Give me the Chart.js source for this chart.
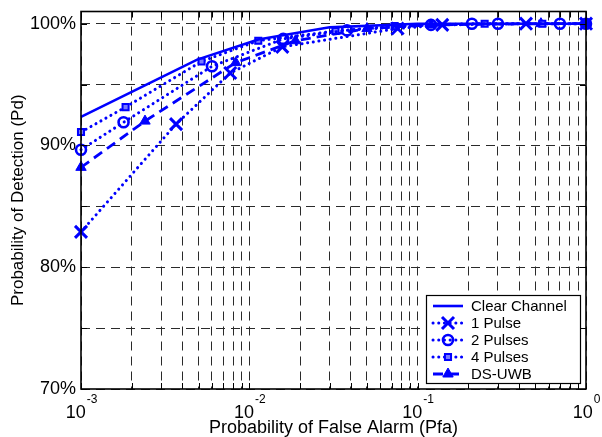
<!DOCTYPE html>
<html><head><meta charset="utf-8">
<script src="https://cdn.jsdelivr.net/npm/chart.js@4/dist/chart.umd.min.js"></script>
<style>html,body{margin:0;padding:0;background:#fff;}#wrap{width:602px;height:437px;position:relative;}</style>
</head><body><div id="wrap"><canvas id="c" width="602" height="437"></canvas></div>
<script>
// ---- data ----
const seriesNames = ['Clear Channel', '1 Pulse', '2 Pulses', '4 Pulses', 'DS-UWB'];

const clearPfa = [0.001, 0.0049, 0.0113, 0.03, 0.1, 1];
const clearPd  = [92.35, 97.05, 98.7, 99.7, 100, 100];

const pulse1Pfa = [0.001, 0.00367, 0.0077, 0.0157, 0.076, 0.14, 0.44, 1];
const pulse1Pd  = [82.9, 91.75, 95.95, 98.1, 99.6, 99.9, 100, 100];

const pulse2Pfa = [0.001, 0.00179, 0.006, 0.0159, 0.038, 0.12, 0.21, 0.3, 0.7, 1];
const pulse2Pd  = [89.65, 91.9, 96.5, 98.75, 99.45, 99.9, 100, 100, 100, 100];

const pulse4Pfa = [0.001, 0.00184, 0.0052, 0.0113, 0.0325, 0.073, 0.25, 0.55, 1];
const pulse4Pd  = [91.1, 93.15, 96.9, 98.6, 99.4, 99.8, 100, 100, 100];

const dsuwbPfa = [0.001, 0.0024, 0.0083, 0.0188, 0.05, 0.12, 0.54, 1];
const dsuwbPd  = [88.2, 92.0, 96.8, 98.6, 99.6, 99.9, 100, 100];

const xMajorTicks = [0.001, 0.01, 0.1, 1];
const xTickBase = '10';
const xTickExponents = ['-3', '-2', '-1', '0'];
const xMinorMultipliers = [2, 3, 4, 5, 6, 7, 8, 9];
const yTickValues = [70, 75, 80, 85, 90, 95, 100];
const yTickLabels = {70: '70%', 80: '80%', 90: '90%', 100: '100%'};

// ---- derived ----
const xGridValues = [];
xMajorTicks.forEach((m, i) => {
  xGridValues.push(m);
  if (i < xMajorTicks.length - 1) xMinorMultipliers.forEach(k => xGridValues.push(+(m * k).toPrecision(6)));
});

const FONT = "'Liberation Sans', Arial, Helvetica, sans-serif";
Chart.defaults.font.family = FONT;
Chart.defaults.color = '#000';

const BLUE = '#0000ff';
const DOT = [0.1, 5.6];
const DASH = [10, 6];
function pts(xs, ys) { return xs.map((x, i) => ({x: x, y: ys[i]})); }

const datasets = [
  {label: seriesNames[0], data: pts(clearPfa, clearPd), borderColor: BLUE, borderWidth: 2.6,
   pointRadius: 0, pointStyle: false, clip: false},
  {label: seriesNames[1], data: pts(pulse1Pfa, pulse1Pd), borderColor: BLUE, borderWidth: 3,
   borderDash: DOT, borderCapStyle: 'round', pointStyle: 'crossRot', pointRadius: 8.5,
   pointBorderWidth: 3, pointBorderColor: BLUE, pointBackgroundColor: BLUE, clip: false},
  {label: seriesNames[2], data: pts(pulse2Pfa, pulse2Pd), borderColor: BLUE, borderWidth: 3,
   borderDash: DOT, borderCapStyle: 'round', pointStyle: 'circle', pointRadius: 5,
   pointBorderWidth: 2.6, pointBorderColor: BLUE, pointBackgroundColor: 'rgba(255,255,255,0)', clip: false},
  {label: seriesNames[3], data: pts(pulse4Pfa, pulse4Pd), borderColor: BLUE, borderWidth: 3,
   borderDash: DOT, borderCapStyle: 'round', pointStyle: 'rect', pointRadius: 4.3,
   pointBorderWidth: 2, pointBorderColor: BLUE, pointBackgroundColor: '#7a7aff', clip: false},
  {label: seriesNames[4], data: pts(dsuwbPfa, dsuwbPd), borderColor: BLUE, borderWidth: 2.8,
   borderDash: DASH, pointStyle: 'triangle', pointRadius: 6,
   pointBorderWidth: 1, pointBorderColor: BLUE, pointBackgroundColor: BLUE, clip: false}
];

function marker(ctx, ds, cx, cy) {
  const st = ds.pointStyle, r = ds.pointRadius;
  if (!st || !r) return;
  ctx.save();
  ctx.setLineDash([]);
  ctx.strokeStyle = ds.pointBorderColor; ctx.fillStyle = ds.pointBackgroundColor;
  ctx.lineWidth = ds.pointBorderWidth;
  ctx.beginPath();
  if (st === 'crossRot') {
    const o = r * Math.SQRT1_2;
    ctx.moveTo(cx - o, cy - o); ctx.lineTo(cx + o, cy + o);
    ctx.moveTo(cx + o, cy - o); ctx.lineTo(cx - o, cy + o);
    ctx.stroke();
  } else if (st === 'circle') {
    ctx.arc(cx, cy, r, 0, Math.PI * 2); ctx.fill(); ctx.stroke();
  } else if (st === 'rect') {
    const s = r * Math.SQRT1_2;
    ctx.rect(cx - s, cy - s, 2 * s, 2 * s); ctx.fill(); ctx.stroke();
  } else if (st === 'triangle') {
    ctx.moveTo(cx, cy - r);
    ctx.lineTo(cx + r * 0.866, cy + r * 0.5);
    ctx.lineTo(cx - r * 0.866, cy + r * 0.5);
    ctx.closePath(); ctx.fill(); ctx.stroke();
  }
  ctx.restore();
}

const decor = {
  id: 'decor',
  afterDatasetsDraw(chart) {
    const {ctx, chartArea: a, scales: {x, y}} = chart;
    ctx.save();
    ctx.setLineDash([]);
    ctx.strokeStyle = '#000';
    ctx.lineWidth = 1;
    // inward tick marks
    ctx.beginPath();
    xGridValues.forEach(v => {
      const px = Math.round(x.getPixelForValue(v)) + 0.5;
      ctx.moveTo(px, a.bottom); ctx.lineTo(px, a.bottom - 6);
      ctx.moveTo(px, a.top); ctx.lineTo(px, a.top + 6);
    });
    yTickValues.forEach(v => {
      const py = Math.round(y.getPixelForValue(v)) + 0.5;
      ctx.moveTo(a.left, py); ctx.lineTo(a.left + 6, py);
      ctx.moveTo(a.right, py); ctx.lineTo(a.right - 6, py);
    });
    ctx.stroke();
    // axes box
    ctx.lineWidth = 1.6;
    ctx.strokeRect(a.left, a.top, a.right - a.left, a.bottom - a.top);
    // x tick labels with superscript exponent
    ctx.fillStyle = '#000';
    ctx.textBaseline = 'alphabetic';
    ctx.textAlign = 'left';
    xMajorTicks.forEach((v, i) => {
      const px = x.getPixelForValue(v);
      ctx.font = '18px ' + FONT;
      const w1 = ctx.measureText(xTickBase).width;
      ctx.font = '12px ' + FONT;
      const w2 = ctx.measureText(xTickExponents[i]).width;
      const start = px - (w1 + w2) / 2;
      ctx.font = '18px ' + FONT;
      ctx.fillText(xTickBase, start, a.bottom + 29);
      ctx.font = '12px ' + FONT;
      ctx.fillText(xTickExponents[i], start + w1 + 1, a.bottom + 14);
    });
    // legend
    const bw = 154, bh = 88;
    const bx = a.right - 6 - bw, by = a.bottom - 6 - bh;
    ctx.fillStyle = '#fff';
    ctx.fillRect(bx, by, bw, bh);
    ctx.lineWidth = 1.2;
    ctx.strokeStyle = '#000';
    ctx.strokeRect(bx + 0.5, by + 0.5, bw, bh);
    chart.data.datasets.forEach((ds, i) => {
      const cy = by + 11 + i * 17;
      ctx.save();
      ctx.strokeStyle = ds.borderColor;
      ctx.lineWidth = ds.borderWidth;
      ctx.lineCap = ds.borderCapStyle || 'butt';
      ctx.setLineDash(ds.borderDash || []);
      ctx.beginPath();
      ctx.moveTo(bx + 7, cy); ctx.lineTo(bx + 37, cy);
      ctx.stroke();
      ctx.restore();
      marker(ctx, ds, bx + 22, cy);
      ctx.fillStyle = '#000';
      ctx.font = '15px ' + FONT;
      ctx.textBaseline = 'middle';
      ctx.fillText(ds.label, bx + 45, cy + 1);
    });
    ctx.restore();
  }
};

const GRIDCOL = '#2a2a2a';
new Chart(document.getElementById('c'), {
  type: 'line',
  data: {datasets: datasets},
  plugins: [decor],
  options: {
    responsive: false,
    devicePixelRatio: 1,
    animation: false,
    events: [],
    layout: {padding: {left: 0, right: 16, top: 10, bottom: 0}},
    plugins: {legend: {display: false}, tooltip: {enabled: false}},
    elements: {line: {tension: 0}},
    scales: {
      x: {
        type: 'logarithmic', min: 0.001, max: 1, position: 'bottom',
        afterBuildTicks: s => { s.ticks = xGridValues.map(v => ({value: v})); },
        afterFit: s => { s.height = 48; s.paddingLeft = 0; s.paddingRight = 0; },
        ticks: {display: false, autoSkip: false},
        grid: {color: GRIDCOL, lineWidth: 1, drawTicks: false},
        border: {display: false, dash: [9, 6]},
        title: {display: true, text: 'Probability of False Alarm (Pfa)', font: {size: 18, lineHeight: 1}, padding: {top: 0, bottom: 0}}
      },
      y: {
        type: 'linear', min: 70, max: 101, position: 'left',
        afterBuildTicks: s => { s.ticks = yTickValues.map(v => ({value: v})); },
        afterFit: s => { s.width = 81; s.paddingTop = 0; s.paddingBottom = 0; },
        ticks: {autoSkip: false, padding: 5, font: {size: 18}, callback: v => yTickLabels[v] || ''},
        grid: {color: GRIDCOL, lineWidth: 1, drawTicks: false},
        border: {display: false, dash: [9, 6]},
        title: {display: true, text: 'Probability of Detection (Pd)', font: {size: 17, lineHeight: 1}, padding: {top: 10, bottom: 0}}
      }
    }
  }
});
</script></body></html>
